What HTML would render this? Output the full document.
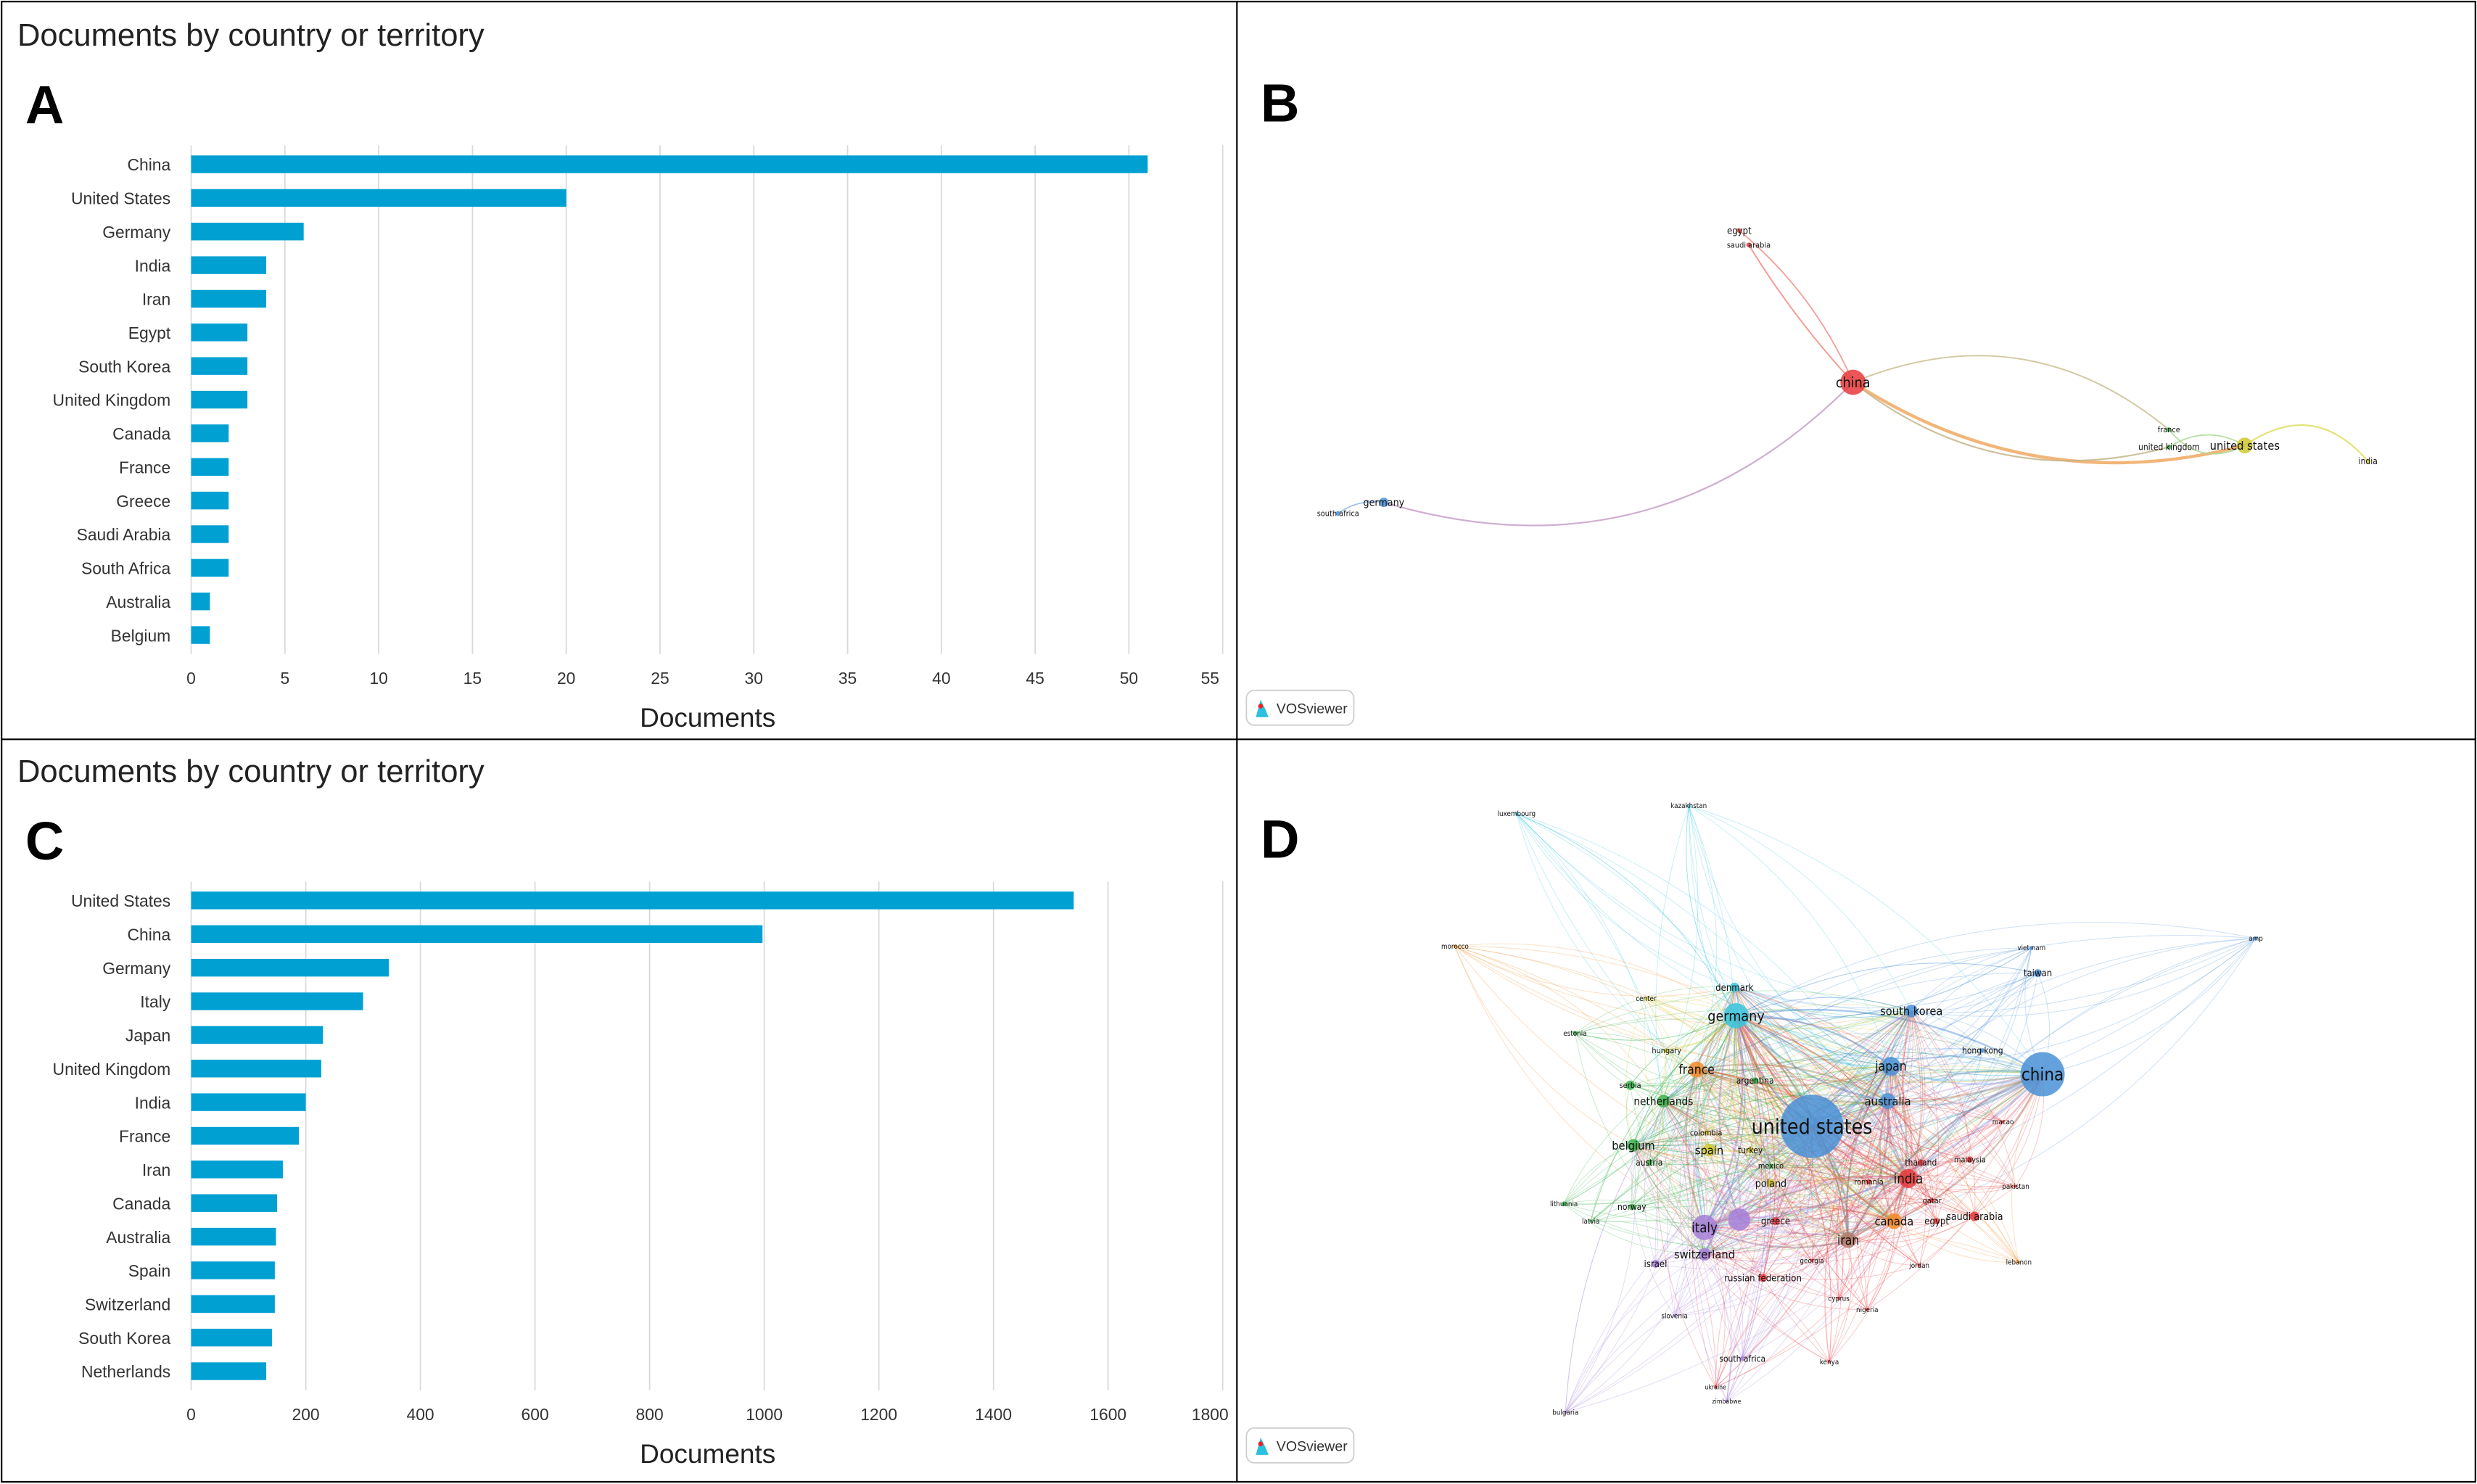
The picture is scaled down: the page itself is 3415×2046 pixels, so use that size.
<!DOCTYPE html>
<html><head><meta charset="utf-8"><style>
html,body{margin:0;padding:0;background:#fff;width:3415px;height:2046px;overflow:hidden}
svg{display:block}
text{font-family:"Liberation Sans",sans-serif}
</style></head><body>
<svg id="fig" width="3415" height="2046" viewBox="0 0 1568 939.4" preserveAspectRatio="none" xmlns="http://www.w3.org/2000/svg">
<rect x="1" y="1" width="1566" height="937" fill="#fff" stroke="#000" stroke-width="1"/>
<line x1="783" y1="1" x2="783" y2="938" stroke="#000" stroke-width="1"/>
<line x1="1" y1="468" x2="1567" y2="468" stroke="#000" stroke-width="1"/>
<g id="panelA"></g>
<g id="panelC"></g>
<g id="panelB"></g>
<g id="panelD"></g>
</svg>
<script>
const NS="http://www.w3.org/2000/svg";
// Panel A data
const catsA=["China","United States","Germany","India","Iran","Egypt","South Korea","United Kingdom","Canada","France","Greece","Saudi Arabia","South Africa","Australia","Belgium"];
const valsA=[51,20,6,4,4,3,3,3,2,2,2,2,2,1,1];
const ticksA=[0,5,10,15,20,25,30,35,40,45,50,55];
// Panel C data
const catsC=["United States","China","Germany","Italy","Japan","United Kingdom","India","France","Iran","Canada","Australia","Spain","Switzerland","South Korea","Netherlands"];
const valsC=[1540,997,345,300,230,227,200,188,160,150,148,146,146,141,131];
const ticksC=[0,200,400,600,800,1000,1200,1400,1600,1800];

function el(tag,attrs,parent,txt){const e=document.createElementNS(NS,tag);for(const k in attrs)e.setAttribute(k,attrs[k]);if(txt!==undefined)e.textContent=txt;parent.appendChild(e);return e;}

function barChart(g,cats,vals,ticks,top,letter,key){
  const x0=121,x1=774,max=ticks[ticks.length-1];
  const xs=v=>x0+(v/max)*(x1-x0);
  const y0=top+104,step=(402-104)/14;
  const ys=i=>y0+i*step;
  let t=el('text',{x:11,y:top+29,'font-size':20,fill:'#222'},g,'Documents by country or territory');
  
  t=el('text',{x:16,y:top+78,'font-size':34,'font-weight':'bold',fill:'#000'},g,letter);
  
  ticks.forEach((tv,i)=>{
    const l=el('line',{x1:xs(tv),x2:xs(tv),y1:top+92,y2:top+414,stroke:'#d9d9d9','stroke-width':0.8},g);
    
    const last=i===ticks.length-1;
    const tl=el('text',{x:last?xs(tv)-8:xs(tv),y:top+433,'font-size':10.5,fill:'#333','text-anchor':'middle'},g,String(tv));
    
  });
  cats.forEach((c,i)=>{
    const r=el('rect',{x:x0,y:ys(i)-5.6,width:xs(vals[i])-x0,height:11.2,fill:'#00a0d2'},g);
    
    const lb=el('text',{x:108,y:ys(i)+4,'font-size':10.5,fill:'#333','text-anchor':'end'},g,c);
    
  });
  t=el('text',{x:448,y:top+460,'font-size':17,fill:'#222','text-anchor':'middle'},g,'Documents');
  
}
barChart(document.getElementById('panelA'),catsA,valsA,ticksA,0,'A','a');
barChart(document.getElementById('panelC'),catsC,valsC,ticksC,466,'C','c');

const COL={r:'#e8393c',b:'#4a90d6',c:'#38c6de',g:'#3bb34a',o:'#f28c28',y:'#cfc82e',p:'#a57fd8',n:'#b07a6a'};
function badge(g,y){
  const r=el('rect',{x:789,y:y,width:68,height:22,rx:5,fill:'#fff',stroke:'#ccc','stroke-width':0.8},g);
  
  el('path',{d:`M795 ${y+17} L798 ${y+6} L801 ${y+12} L803 ${y+17} Z`,fill:'#2bc0e0'},g);
  el('circle',{cx:798,cy:y+10,r:1.5,fill:'#e22'},g);
  const t=el('text',{x:808,y:y+14.5,'font-size':9,fill:'#333'},g,'VOSviewer');
  
}
function curve(g,a,b,bend,color,w,op){
  const mx=(a[0]+b[0])/2,my=(a[1]+b[1])/2,dx=b[0]-a[0],dy=b[1]-a[1];
  const cx=mx-dy*bend,cy=my+dx*bend;
  const p=el('path',{d:`M${a[0]} ${a[1]} Q${cx} ${cy} ${b[0]} ${b[1]}`,fill:'none',stroke:color,'stroke-width':w,'stroke-opacity':op},g);
  
}
function node(g,n){
  const c=el('circle',{cx:n.x,cy:n.y,r:n.r,fill:COL[n.c],'fill-opacity':0.85},g);
  
  const t=el('text',{x:n.x,y:n.y+n.f*0.35,'font-size':n.f,fill:'#111','text-anchor':'middle',style:'font-family:"DejaVu Sans Condensed","Liberation Sans Narrow",sans-serif'},g,n.name);
  
}
// Panel B
const nodesB=[
 {name:'china',x:1173,y:242,r:8,c:'r',f:9},{name:'united states',x:1421,y:282,r:5,c:'y',f:7.5},
 {name:'india',x:1499,y:292,r:1.5,c:'y',f:5.5},{name:'france',x:1373,y:272,r:1.5,c:'g',f:5},
 {name:'united kingdom',x:1373,y:283,r:1.5,c:'g',f:5.5},{name:'egypt',x:1101,y:146,r:1.5,c:'r',f:6},
 {name:'saudi arabia',x:1107,y:155,r:1.5,c:'r',f:5},{name:'germany',x:876,y:318,r:3,c:'b',f:6.5},
 {name:'south africa',x:847,y:325,r:1.5,c:'b',f:5}];
const edgesB=[[0,5,0.12,'#f48a80',0.8],[0,6,-0.05,'#f48a80',0.9],[0,7,-0.3,'#c7a0c8',1],[0,1,0.22,'#f0a860',2],[0,4,0.25,'#c6b58a',1],[0,3,-0.3,'#c9c090',0.9],[1,2,-0.45,'#dede60',1],[1,3,-0.4,'#a8d890',0.8],[1,4,0.3,'#a8d890',0.8],[7,8,0.2,'#8ab8e8',0.8]];
(function(){const g=document.getElementById('panelB');
 let t=el('text',{x:798,y:77,'font-size':34,'font-weight':'bold',fill:'#000'},g,'B');
 edgesB.forEach(e=>{const a=nodesB[e[0]],b=nodesB[e[1]];curve(g,[a.x,a.y],[b.x,b.y],e[2],e[3],e[4],0.85);});
 nodesB.forEach(n=>node(g,n));badge(g,437);})();
// Panel D
const nodesD=[
 ['united states',1147,713,20,'b',13],['china',1293,680,14,'b',11],['germany',1099,643,8,'c',9],['japan',1197,675,6,'b',8],
 ['australia',1195,697,5,'b',7.5],['south korea',1210,640,4,'b',7.5],['india',1208,746,6,'r',8.5],['italy',1079,777,8,'p',8.5],
 ['',1101,772,7,'p',6],['switzerland',1079,794,4,'p',7.5],['canada',1199,773,5,'o',7.5],['iran',1170,785,5,'n',8],
 ['france',1074,677,5,'o',8],['netherlands',1053,697,4,'g',7],['belgium',1034,725,4,'g',7.5],['spain',1082,728,4,'y',7.5],
 ['denmark',1098,625,3,'c',6],['taiwan',1290,616,2.5,'b',6],['viet nam',1286,600,1.2,'b',4.5],['amp',1428,594,1.2,'b',4.5],
 ['luxembourg',960,515,1,'c',4.5],['kazakhstan',1069,510,1,'c',4.5],['morocco',921,599,1,'o',4.5],['estonia',997,654,1.5,'g',4.5],
 ['serbia',1032,687,3,'g',5],['greece',1124,773,2.5,'r',6],['poland',1121,749,2.5,'y',6.5],['russian federation',1116,809,2.5,'r',6],
 ['israel',1048,800,2.5,'p',6],['south africa',1103,860,1.5,'p',5.5],['saudi arabia',1250,770,3,'r',6.5],['egypt',1226,773,2,'r',6],
 ['malaysia',1247,734,2,'r',5],['thailand',1216,736,2,'r',5.5],['pakistan',1276,751,1,'r',4.5],['lebanon',1278,799,1,'o',4.5],
 ['jordan',1215,801,1,'r',4.5],['cyprus',1164,822,1,'r',4.5],['nigeria',1182,829,1,'r',4.5],['kenya',1158,862,1,'r',4.5],
 ['ukraine',1086,878,1,'r',4],['zimbabwe',1093,887,1,'p',4],['bulgaria',991,894,1,'p',4.5],['slovenia',1060,833,1,'p',4.5],
 ['latvia',1007,773,1,'g',4.5],['lithuania',990,762,1.5,'g',4.5],['norway',1033,764,2,'g',5.5],['austria',1044,736,2,'g',5.5],
 ['hong kong',1255,665,1.5,'b',5.5],['macao',1268,710,1,'r',4.5],['argentina',1111,684,2,'g',5.5],['hungary',1055,665,1.5,'y',5],
 ['center',1042,632,1,'y',4.5],['colombia',1080,717,1.5,'y',5],['mexico',1121,738,1.5,'g',5],['turkey',1108,728,2,'y',5.5],
 ['romania',1183,748,1.5,'r',5],['qatar',1223,760,1.5,'r',5],['georgia',1147,798,1,'r',4.5]
].map(a=>({name:a[0],x:a[1],y:a[2],r:a[3],c:a[4],f:a[5]}));
const hubsD=[0,1,2,3,4,5,6,7,9,10,11,12,13,14,2,16];
(function(){const g=document.getElementById('panelD');
 let t=el('text',{x:798,y:543,'font-size':34,'font-weight':'bold',fill:'#000'},g,'D');
 nodesD.forEach((n,i)=>{
   hubsD.forEach((h,k)=>{ if(h===i) return; if((i+k)%3===0 && i>16 && k>6) return;
     const b=nodesD[h]; const w=(n.r>4&&b.r>4)?1.1:0.45;
     curve(g,[n.x,n.y],[b.x,b.y],((i+k)%2?0.18:-0.18),COL[n.c],w,0.28);});
 });
 nodesD.forEach(n=>node(g,n));badge(g,904);})();
</script>
</body></html>
